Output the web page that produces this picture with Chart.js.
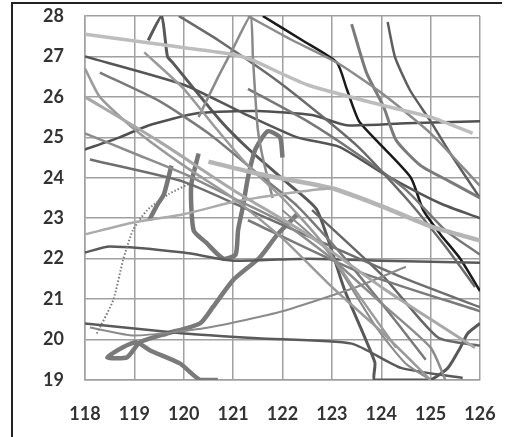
<!DOCTYPE html>
<html>
<head>
<meta charset="utf-8">
<script src="https://cdn.jsdelivr.net/npm/chart.js@4"></script>
<style>
  html, body { margin: 0; padding: 0; background: #fff; }
  #wrap { position: relative; width: 508px; height: 437px; }
</style>
</head>
<body>
<div id="wrap"><canvas id="trackChart" width="508" height="437"></canvas></div>
<script>
//axis ticks
const lonTicks = [118, 119, 120, 121, 122, 123, 124, 125, 126];
const latTicks = [19, 20, 21, 22, 23, 24, 25, 26, 27, 28];

//tracks, [lon, lat]
const trackBlack = [[121.6,28],[122.4,27.4],[123.1,26.85],[123.3,26.2],[123.55,25.4],[124.0,24.8],[124.6,24.0],[124.85,23.2],[125.2,22.6],[125.6,22.0],[126,21.2]];
const trackNextBlack = [[121.3,28],[122.2,27.4],[123.1,26.85],[124.0,26.1],[125.0,25.1],[126,23.8]];
const trackHook = [[119.28,27.4],[119.55,28],[119.67,27.0],[119.78,26.84],[120.73,25.43],[121.34,24.68],[122.15,23.82],[122.7,23.2],[123.26,21.22],[123.87,19.44],[123.87,19],[124.98,19],[125.35,19.3],[125.6,19.8],[125.75,20.15],[126,20.4]];
const trackTopLight = [[118,27.55],[119.5,27.3],[121,27.05],[121.4,26.9],[122.5,26.3],[124,25.8],[125,25.5],[125.85,25.1]];
const trackFrom27 = [[118,27.0],[120,26.3],[121.2,25.6],[122.3,25.0],[123.16,24.76],[124.03,24.11],[125.19,23.37],[126,23.0]];
const trackRightDots = [[123.4,27.8],[123.7,26.6],[124.05,25.75],[124.3,24.93],[124.8,24.3],[125.4,23.9],[126,23.5]];
const trackRightDark = [[124.13,27.85],[124.28,26.98],[124.58,26.17],[124.98,25.43],[125.4,24.6],[126,23.5]];
const trackFlat255 = [[118,24.7],[118.7,25.0],[119.3,25.3],[120.3,25.6],[121.5,25.65],[122.6,25.55],[123.3,25.3],[124.5,25.35],[126,25.4]];
const trackLightBand = [[120.5,24.4],[121.5,24.1],[123,23.74],[124,23.3],[125,22.8],[126,22.45]];
const trackFlat22 = [[118,22.15],[118.5,22.3],[120,22.15],[121,21.95],[122.5,22.0],[124,21.95],[126,21.9]];
const trackBottom = [[118,20.4],[120,20.15],[121.5,20.03],[123.4,19.9],[124.4,19.3],[125.65,19.05]];
const trackLoop = [[120.69,19],[120.33,19],[119.92,19.41],[119.32,19.73],[119.05,19.93],[118.77,19.81],[118.45,19.56],[118.85,19.56],[119.11,19.93],[119.66,20.15],[120.33,20.4],[120.59,20.8],[121,21.47],[121.54,22.03],[121.9,22.6],[122.3,23.1]];
const trackDotted = [[118.24,20.15],[118.57,20.97],[118.77,21.96],[118.97,22.7],[119.26,23.2],[119.7,23.6],[120.2,23.9]];
const trackRising = [[118.1,20.3],[119,20.1],[120.5,20.3],[122,20.7],[123.5,21.3],[124.5,21.8]];
const trackS = [[120.3,24.6],[120.15,23.8],[120.2,22.7],[120.45,22.4],[120.8,22.0],[121.05,22.1],[121.1,22.7],[121.2,23.3],[121.3,24.0],[121.45,24.7],[121.7,25.15],[121.95,25.0],[122.0,24.5]];
const trackShort = [[119.3,22.95],[119.45,23.3],[119.6,23.6],[119.75,24.3]];
const trackV = [[120.3,25.5],[120.7,26.5],[121.0,27.2],[121.35,28],[121.4,27],[121.45,26],[121.5,25.2],[121.6,24.5],[121.8,23.5]];
const trackL1 = [[118,26.0],[119.5,24.9],[121,23.7],[122.5,22.6],[124,21.3],[125,20.5],[125.9,19.8]];
const trackL2 = [[118,26.7],[118.3,26.0],[119,25.2],[120,24.3],[121,23.5],[122,22.5],[123,21.3],[124,20.2],[125,19.0]];
const trackL3 = [[118,25.1],[119,24.6],[120,24.1],[121,23.5],[122,22.9],[123,22.0],[124,20.9],[125,19.8],[125.3,19.0]];
const trackL4 = [[118.1,24.45],[120,23.9],[121.5,23.1],[123,22.3],[124.5,21.5],[126,20.8]];
const trackLightRise = [[118,22.6],[119,22.9],[120,23.1],[121,23.4],[122,23.6],[123,23.75]];
const trackTopDiag = [[119.9,28],[120.7,27.4],[122,26.3],[123.5,24.8],[124.5,23.5],[125.3,22.3],[125.9,21.3]];
const trackDots2 = [[122,23.2],[122.9,22.2],[123.9,20.3],[124.5,19.4],[125,19]];
const trackM1 = [[122.6,23.2],[124.05,21.55],[125.15,20.05],[126,19.85]];
const trackM2 = [[121.3,22.95],[123.5,21.7],[126,20.7]];
const trackM3 = [[118.3,26.6],[119.5,25.9],[120.5,25.1],[121.5,24.1],[122.3,23.3],[123.2,22.1],[124.2,20.6],[124.9,19.5]];
const trackM4 = [[119.2,27.1],[120.0,26.2],[120.6,25.3],[121.3,24.3],[122,23.5],[122.8,22.4],[123.6,21.0],[124.3,19.8]];
const trackM5 = [[121.3,26.2],[122.5,25.4],[123.5,24.6],[124.5,23.7],[125.3,22.7],[126,22.1]];

const tracks = [trackL1, trackL2, trackL3, trackLightRise, trackTopLight, trackLightBand, trackM4, trackV, trackNextBlack,
    trackDotted, trackRising, trackDots2, trackM2, trackM3, trackL4, trackTopDiag, trackM5, trackM1, trackRightDots,
    trackRightDark, trackFrom27, trackFlat255, trackFlat22, trackBottom, trackLoop, trackS, trackShort, trackHook, trackBlack];
const trackColors = ['#a8a8a8', '#9a9a9a', '#8c8c8c', '#ababab', '#bdbdbd', '#b5b5b5', '#9a9a9a', '#8a8a8a', '#8a8a8a',
    '#7a7a7a', '#8a8a8a', '#8a8a8a', '#7a7a7a', '#7a7a7a', '#6e6e6e', '#6a6a6a', '#777777', '#666666', '#7a7a7a',
    '#5e5e5e', '#555555', '#505050', '#5a5a5a', '#5a5a5a', '#7a7a7a', '#777777', '#777777', '#585858', '#1a1a1a'];
const trackWidths = [3, 2.5, 2.5, 2.5, 3.5, 4.5, 2.5, 2.5, 2.5,
    2, 2, 2, 2.5, 2.5, 2.5, 2.5, 2.5, 2.5, 3,
    2.5, 2.5, 2.5, 2.5, 2.5, 4.5, 4.5, 4.5, 3, 2.5];

//frame round the chart
const framePlugin = {
    id: 'frame',
    beforeDraw(chart) {
        const c = chart.ctx;
        c.save();
        c.fillStyle = '#fff';
        c.fillRect(0, 0, chart.width, chart.height);
        c.strokeStyle = '#222';
        c.lineWidth = 2;
        c.beginPath();
        c.moveTo(12, 437);
        c.lineTo(12, 3);
        c.lineTo(502, 3);
        c.stroke();
        c.restore();
    }
};

const tickFont = { family: 'Lato', size: 18, weight: 'bold' };

const trackChart = () => {
    var ctx = document.getElementById('trackChart').getContext('2d');
    var chart = new Chart(ctx, {
        type: 'scatter',
        data: {
            datasets: tracks.map((t, i) => ({
                data: t.map(p => ({ x: p[0], y: p[1] })),
                showLine: true,
                borderColor: trackColors[i],
                borderWidth: trackWidths[i],
                borderDash: i === 9 ? [1.5, 2] : [],
                pointRadius: 0,
                tension: 0.2,
                fill: false
            }))
        },
        options: {
            responsive: false,
            animation: false,
            layout: { padding: { left: 0, right: 28, top: 16, bottom: 0 } },
            plugins: { legend: { display: false }, tooltip: { enabled: false } },
            scales: {
                x: {
                    type: 'linear',
                    min: 118,
                    max: 126,
                    afterBuildTicks: s => { s.ticks = lonTicks.map(v => ({ value: v })); },
                    afterFit: s => { s.height = 57; s.paddingLeft = 0; s.paddingRight = 0; },
                    grid: { color: '#a0a0a0', lineWidth: 1.5, drawTicks: false },
                    border: { color: '#a0a0a0', width: 1.5 },
                    ticks: { color: '#333', padding: 23, font: tickFont }
                },
                y: {
                    type: 'linear',
                    min: 19,
                    max: 28,
                    afterBuildTicks: s => { s.ticks = latTicks.map(v => ({ value: v })); },
                    afterFit: s => { s.width = 85; s.paddingTop = 0; s.paddingBottom = 0; },
                    grid: { color: '#a0a0a0', lineWidth: 1.5, drawTicks: false },
                    border: { color: '#a0a0a0', width: 1.5 },
                    ticks: { color: '#333', padding: 21, font: tickFont }
                }
            }
        },
        plugins: [framePlugin]
    });
};
trackChart()
</script>
</body>
</html>
